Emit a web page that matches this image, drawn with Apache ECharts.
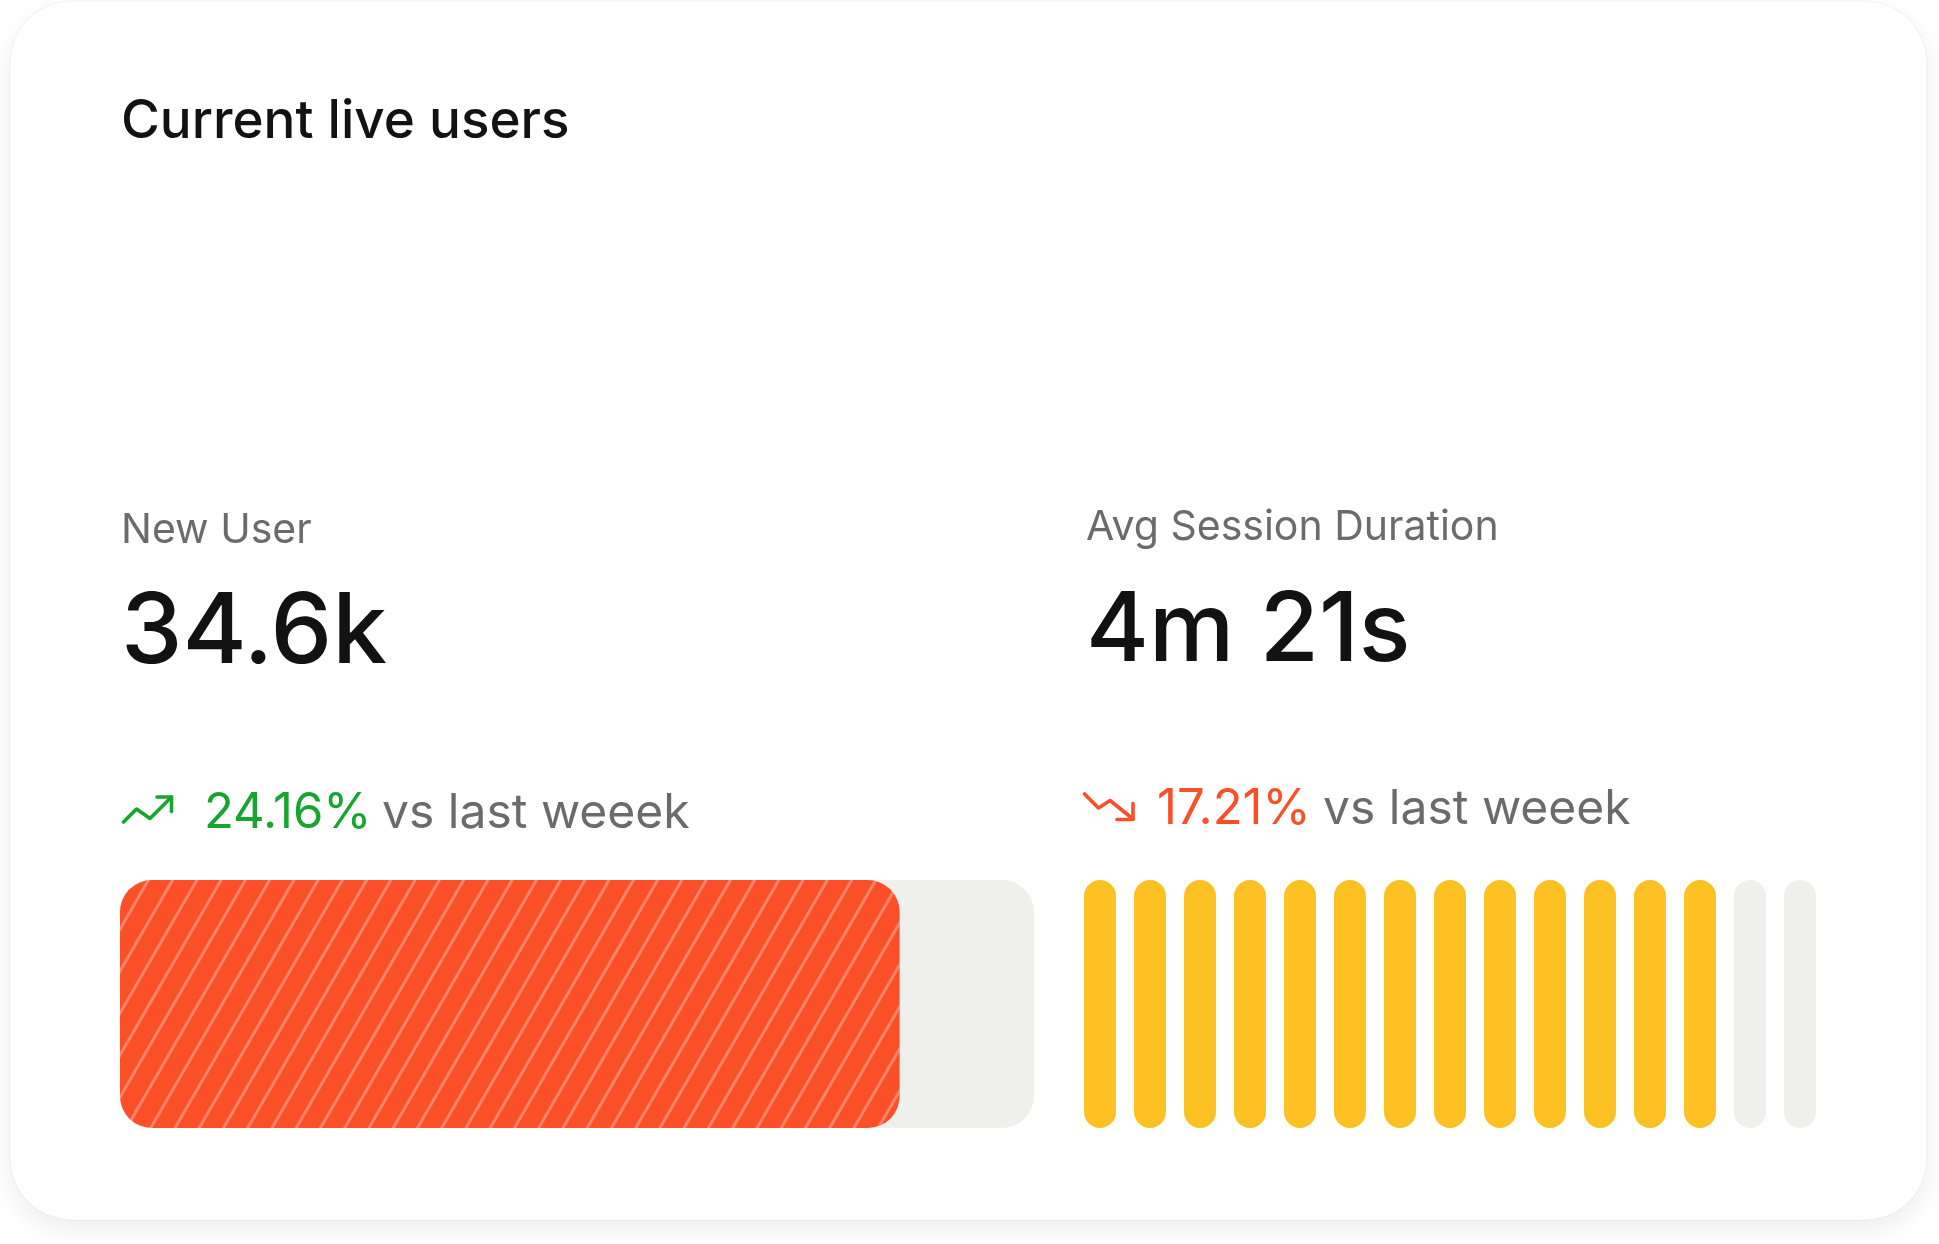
<!DOCTYPE html>
<html>
<head>
<meta charset="utf-8">
<script src="https://cdn.jsdelivr.net/npm/echarts@6/dist/echarts.min.js"></script>
<style>
html,body{margin:0;padding:0;background:#ffffff;}
#chart{width:1939px;height:1244px;}
</style>
</head>
<body>
<div id="chart"></div>
<script>
// ---- data ----
const titleText = 'Current live users';
const newUserLabel = 'New User';
const newUserValue = '34.6k';
const newUserChange = '24.16%';
const sessionLabel = 'Avg Session Duration';
const sessionValue = '4m 21s';
const sessionChange = '17.21%';
const compareText = 'vs last weeek';
const newUserProgress = [85.3];
const progressMax = 100;
const segmentCategories = ['1','2','3','4','5','6','7','8','9','10','11','12','13','14','15'];
const segmentValues = [1,1,1,1,1,1,1,1,1,1,1,1,1,1,1];
const segmentFilled = [1,1,1,1,1,1,1,1,1,1,1,1,1,0,0];

// ---- styles ----
const FONT = 'Inter, "Noto Sans", sans-serif';
const RED = '#fb4f27';
const GREEN = '#17a42f';
const YELLOW = '#fec123';
const TRACK = '#efefeb';
const GRAY_TEXT = '#6b6b6b';
const DARK = '#121212';

function txt(text, x, baseline, size, color, weight) {
  return {
    type: 'text', x: x, y: baseline - 0.30 * size, z: 10,
    style: {
      text: text, fill: color, fontSize: size, fontWeight: weight || 400,
      fontFamily: FONT, lineHeight: size, align: 'left', verticalAlign: 'middle'
    }
  };
}

const chart = echarts.init(document.getElementById('chart'), null, {renderer: 'canvas'});
const option = {
  animation: false,
  backgroundColor: '#ffffff',
  graphic: [
    {
      type: 'rect', z: -10, shape: {x: 10, y: 1, width: 1917, height: 1219, r: 62},
      style: {fill: '#ffffff', stroke: 'rgba(0,0,0,0.05)', lineWidth: 1,
        shadowBlur: 24, shadowColor: 'rgba(0,0,0,0.07)', shadowOffsetY: 10}
    },
    txt(titleText, 121, 138, 53, DARK, 500),
    txt(newUserLabel, 121, 543, 41, GRAY_TEXT, 400),
    txt(newUserValue, 121, 663, 98, DARK, 500),
    txt(sessionLabel, 1086, 540, 41, GRAY_TEXT, 400),
    txt(sessionValue, 1086, 661, 96, DARK, 500),
    txt(newUserChange, 204, 828, 49, GREEN, 400),
    txt(compareText, 382, 828, 48, GRAY_TEXT, 400),
    txt(sessionChange, 1157, 824, 49, RED, 400),
    txt(compareText, 1323, 824, 48, GRAY_TEXT, 400),
    {
      type: 'polyline', z: 10,
      shape: {points: [[123.5,822],[136.5,809],[150,818.5],[171.5,797]]},
      style: {stroke: GREEN, lineWidth: 3.6, lineCap: 'round', lineJoin: 'round', fill: null}
    },
    {
      type: 'polyline', z: 10,
      shape: {points: [[157,797],[171.5,797],[171.5,811.5]]},
      style: {stroke: GREEN, lineWidth: 3.6, lineCap: 'round', lineJoin: 'round', fill: null}
    },
    {
      type: 'polyline', z: 10,
      shape: {points: [[1084.5,794],[1098.5,808],[1110,800.5],[1133,819]]},
      style: {stroke: RED, lineWidth: 3.6, lineCap: 'round', lineJoin: 'round', fill: null}
    },
    {
      type: 'polyline', z: 10,
      shape: {points: [[1117,819.5],[1133,819.5],[1133,803.5]]},
      style: {stroke: RED, lineWidth: 3.6, lineCap: 'round', lineJoin: 'round', fill: null}
    }
  ],
  grid: [
    {left: 120, top: 880, width: 914, height: 248},
    {left: 1075, top: 880, width: 750, height: 248}
  ],
  xAxis: [
    {gridIndex: 0, type: 'value', min: 0, max: progressMax, show: false},
    {gridIndex: 1, type: 'category', data: segmentCategories, show: false}
  ],
  yAxis: [
    {gridIndex: 0, type: 'category', data: [newUserLabel], show: false},
    {gridIndex: 1, type: 'value', min: 0, max: 1, show: false}
  ],
  series: [
    {
      type: 'bar', xAxisIndex: 0, yAxisIndex: 0, data: newUserProgress,
      barWidth: 248, showBackground: true,
      backgroundStyle: {color: TRACK, borderRadius: 32},
      itemStyle: {
        color: RED, borderRadius: 32,
        decal: {
          symbol: 'rect', symbolSize: 1, color: 'rgba(255,255,255,0.3)',
          dashArrayX: [1, 0], dashArrayY: [3, 18], rotation: -Math.PI / 3
        }
      }
    },
    {
      type: 'bar', xAxisIndex: 1, yAxisIndex: 1, barWidth: 32,
      data: segmentValues.map((v, i) => ({
        value: v, itemStyle: {color: segmentFilled[i] ? YELLOW : TRACK}
      })),
      itemStyle: {borderRadius: 16}
    }
  ]
};
chart.setOption(option);
</script>
</body>
</html>
